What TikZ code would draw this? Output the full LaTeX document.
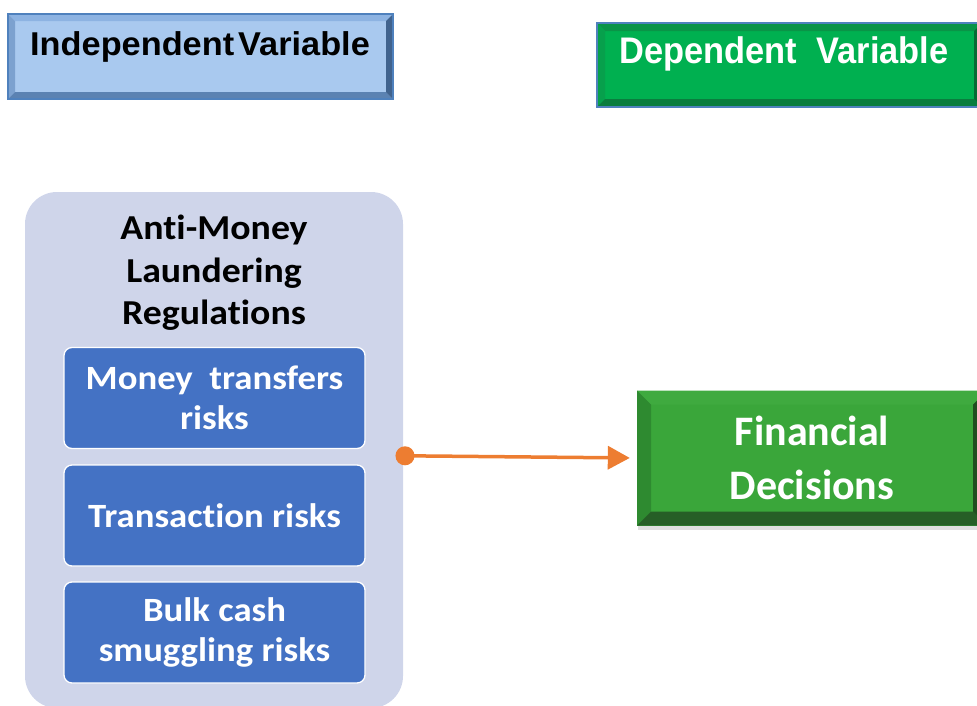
\documentclass[tikz,border=0pt]{standalone}
\usepackage{fontspec}
\setmainfont{Carlito}[Ligatures=NoCommon]
\newfontfamily\widefont{Carlito}[Ligatures=NoCommon, FakeStretch=1.08]
\newfontfamily\ivfont{Liberation Sans}[FakeStretch=1.04]
\newfontfamily\dvfont{Liberation Sans}[FakeStretch=0.93]
\usetikzlibrary{calc,arrows.meta,shadows}

\definecolor{ivface}{HTML}{A9C9EF}
\definecolor{ivtop}{HTML}{8DB3E2}
\definecolor{ivleft}{HTML}{7CA1CF}
\definecolor{ivbottom}{HTML}{5B82B2}
\definecolor{ivright}{HTML}{41638E}
\definecolor{ivline}{HTML}{4F81BD}
\definecolor{dvface}{HTML}{00B050}
\definecolor{dvtop}{HTML}{0A9447}
\definecolor{dvleft}{HTML}{07A04C}
\definecolor{dvbottom}{HTML}{0A7D3E}
\definecolor{dvright}{HTML}{066B34}
\definecolor{fdface}{HTML}{3AA63A}
\definecolor{fdtop}{HTML}{3FAA3F}
\definecolor{fdleft}{HTML}{2E8A30}
\definecolor{fdbottom}{HTML}{265E26}
\definecolor{fdright}{HTML}{1F4F1F}
\definecolor{panel}{HTML}{CFD5EA}
\definecolor{riskblue}{HTML}{4472C4}
\definecolor{linkorange}{HTML}{ED7D31}

\tikzset{
  % bevelled button: #1 bevel width, #2 top, #3 left, #4 bottom, #5 right
  bevelled/.style n args={5}{
    path picture={
      \coordinate (oNW) at (path picture bounding box.north west);
      \coordinate (oSE) at (path picture bounding box.south east);
      \coordinate (oNE) at (oSE |- oNW);
      \coordinate (oSW) at (oNW |- oSE);
      \coordinate (iNW) at ($(oNW)+(#1,#1)$);
      \coordinate (iSE) at ($(oSE)+(-#1,-#1)$);
      \coordinate (iNE) at (iSE |- iNW);
      \coordinate (iSW) at (iNW |- iSE);
      \fill[#2] (oNW) -- (oNE) -- (iNE) -- (iNW) -- cycle;
      \fill[#3] (oNW) -- (iNW) -- (iSW) -- (oSW) -- cycle;
      \fill[#4] (oSW) -- (iSW) -- (iSE) -- (oSE) -- cycle;
      \fill[#5] (oNE) -- (oSE) -- (iSE) -- (iNE) -- cycle;
    }
  },
  headbox/.style={rectangle, inner sep=0pt},
  headtext/.style={anchor=base, inner sep=0pt},
  riskbox/.style={rectangle, rounded corners=8pt, fill=riskblue, draw=white,
    line width=1.3pt, minimum width=301pt, minimum height=101pt,
    text=white, align=center, inner sep=0pt,
    font=\widefont\bfseries\fontsize{34}{39.5}\selectfont},
  link/.style={draw=linkorange, line width=3.5pt,
    {Circle[length=19pt,width=19pt]}-{Triangle[length=22pt,width=23pt]}},
}

\begin{document}
\begin{tikzpicture}[x=1pt,y=-1pt]
\useasboundingbox (0,0) rectangle (977,705);

% header buttons
\node[headbox, fill=ivface, draw=ivline, line width=1.5pt,
      minimum width=385pt, minimum height=85pt,
      bevelled={7}{ivtop}{ivleft}{ivbottom}{ivright}]
  (ivbox) at (200.5,56.5) {};
\node[headtext, text=black, font=\ivfont\bfseries\fontsize{33}{38}\selectfont]
  (ivtext) at (200,55) {Independent\hspace{0.12em}Variable};

\node[headbox, fill=dvface, draw=ivline, line width=1.5pt,
      minimum width=385pt, minimum height=84pt,
      bevelled={8}{dvtop}{dvleft}{dvbottom}{dvright}]
  (dvbox) at (789.5,65) {};
\node[headtext, text=white, font=\dvfont\bfseries\fontsize{37}{40}\selectfont]
  (dvtext) at (784,63) {Dependent\ \ Variable};

% independent variable panel
\node[rectangle, rounded corners=32pt, fill=panel, inner sep=0pt,
      minimum width=378pt, minimum height=516pt] (panel) at (214,450) {};
\node[align=center, text=black, inner sep=0pt,
      font=\widefont\bfseries\fontsize{35}{42.5}\selectfont] (paneltitle) at (214,273)
  {Anti-Money\\Laundering\\Regulations};

\node[riskbox] (risk1) at (214.5,398) {Money\ \ transfers\\risks};
\node[riskbox] (risk2) at (214.5,515.5) {Transaction risks};
\node[riskbox] (risk3) at (214.5,632.5) {Bulk cash\\smuggling risks};

% dependent variable
\node[headbox, fill=fdface, minimum width=350pt, minimum height=135pt,
      drop shadow={shadow xshift=1pt, shadow yshift=-4pt, opacity=0.25},
      bevelled={14}{fdtop}{fdleft}{fdbottom}{fdright},
      text=white, align=center,
      font=\bfseries\fontsize{42}{54}\selectfont] (fd) at (812,458)
  {Financial\\Decisions};

% relationship
\coordinate (linkstart) at (395.5,455.7);
\draw[link, shorten >=7pt] (linkstart) -- (fd.west);
\end{tikzpicture}
\end{document}
